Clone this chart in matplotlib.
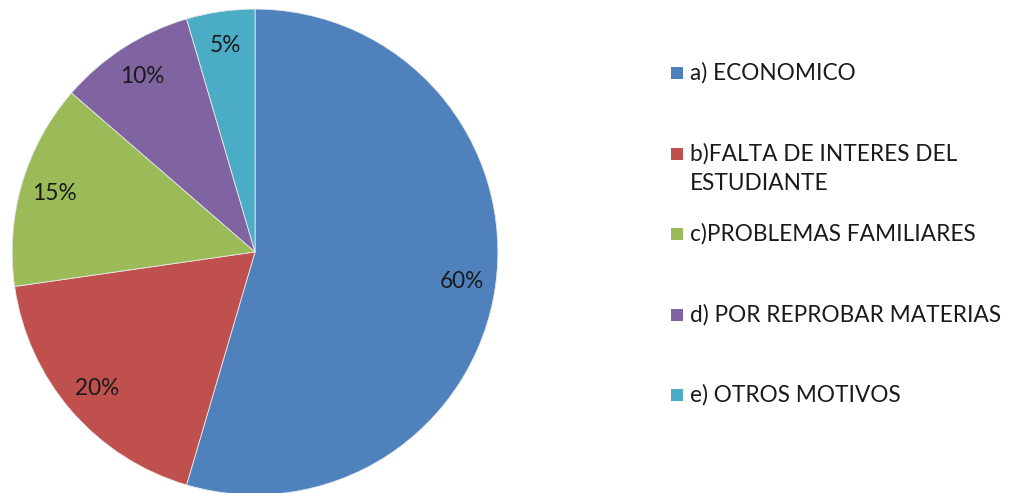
import matplotlib
matplotlib.use("Agg")
import matplotlib.pyplot as plt
from matplotlib.patches import Rectangle

labels = ["a) ECONOMICO", "b)FALTA DE INTERES DEL\nESTUDIANTE", "c)PROBLEMAS FAMILIARES",
          "d) POR REPROBAR MATERIAS", "e) OTROS MOTIVOS"]
values = [60, 20, 15, 10, 5]
colors = ["#4F81BD", "#C0504D", "#9BBB59", "#8064A2", "#4BACC6"]

plt.rcParams['font.family'] = ['Lato', 'DejaVu Sans']
W, H = 1012, 493
fig = plt.figure(figsize=(W / 100, H / 100), dpi=100)
ax = fig.add_axes([0.012, -0.004, 0.480, 0.986])

total = sum(values)
wedges, texts, autotexts = ax.pie(values, colors=colors, startangle=90, counterclock=False,
                                  autopct=lambda p: "%d%%" % round(p * total / 100),
                                  pctdistance=0.86, wedgeprops=dict(linewidth=0.6, edgecolor="#e8e8e8"),
                                  textprops=dict(fontsize=16.3, color="#1a1a1a"))
ax.set_aspect("equal")
ax.set_xlim(-1, 1)
ax.set_ylim(-1, 1)

# legend drawn by hand: evenly spaced markers, wrapped text hangs below
y0, step, line_h = 73, 80.5, 30
for i, (lab, c) in enumerate(zip(labels, colors)):
    yc = y0 + i * step
    fig.add_artist(Rectangle((671 / W, 1 - (yc + 6) / H), 12 / W, 12 / H,
                             transform=fig.transFigure, facecolor=c, edgecolor="none"))
    for j, line in enumerate(lab.split("\n")):
        fig.text(690 / W, 1 - (yc + j * line_h) / H, line, fontsize=16.3,
                 color="#1a1a1a", va="center", ha="left")

fig.savefig("out.png", dpi=100)
